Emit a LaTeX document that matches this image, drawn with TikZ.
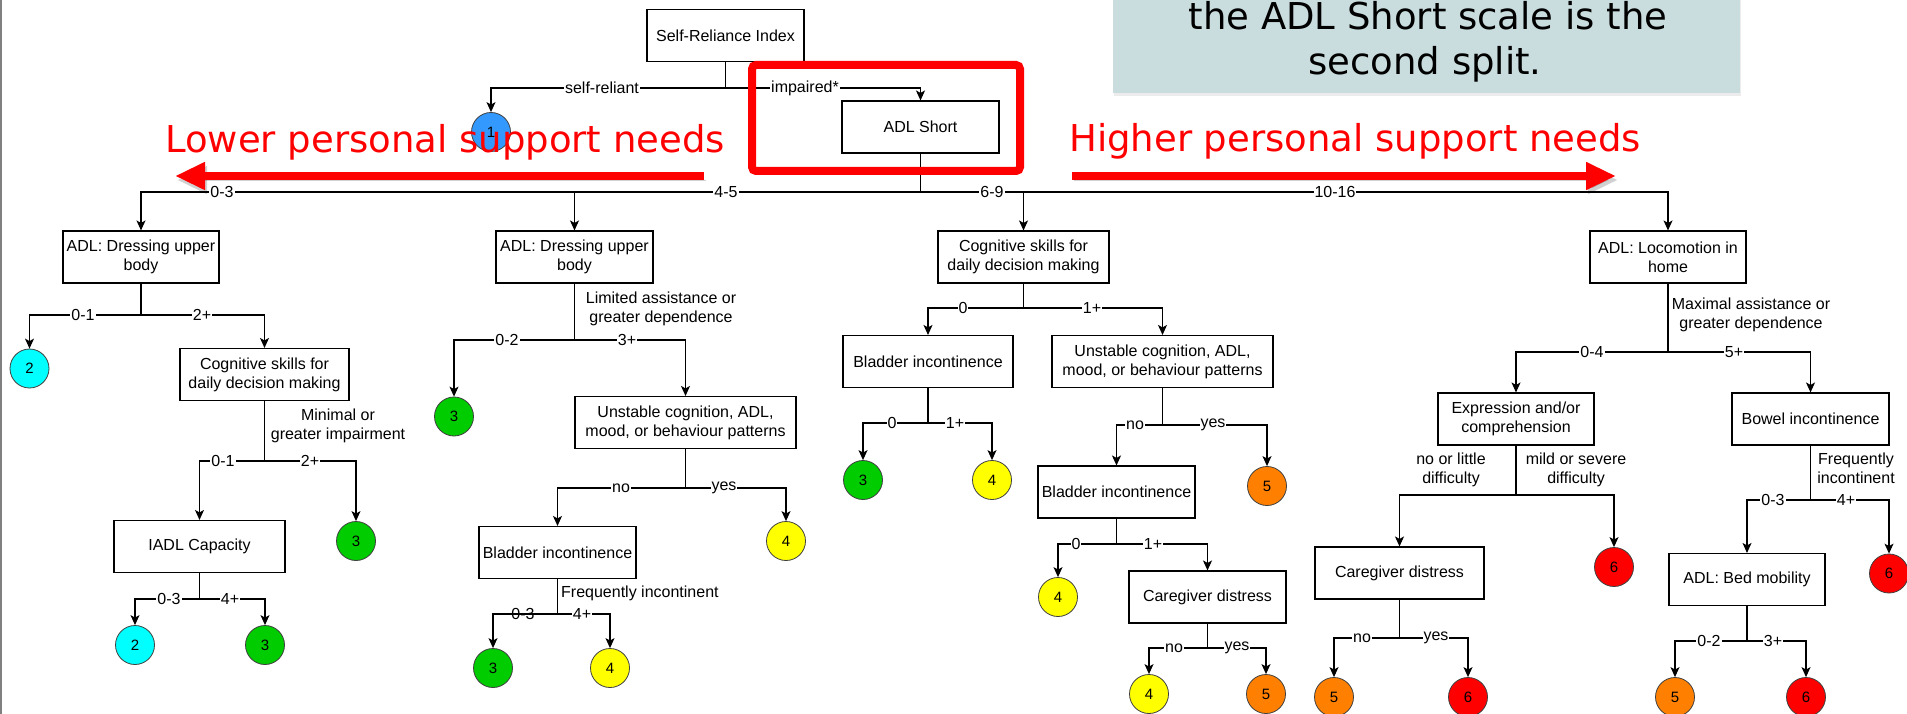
\documentclass[tikz,border=0pt]{standalone}
\usepackage{fontspec}
\setmainfont{Liberation Sans}
\newfontfamily\slidefont{DejaVu Sans}
\usetikzlibrary{arrows.meta,shadows}

\definecolor{leafcyan}{HTML}{00FFFF}
\definecolor{leafgreen}{HTML}{00CC00}
\definecolor{leafyellow}{HTML}{FFFF00}
\definecolor{leaforange}{HTML}{FF8000}
\definecolor{leafred}{HTML}{FF0000}
\definecolor{leafblue}{HTML}{3399FF}
\definecolor{notefill}{HTML}{C9DCDE}
\definecolor{framegray}{HTML}{808080}

\begin{document}
\begin{tikzpicture}[x=1pt,y=-1pt,
  box/.style={draw=black, line width=1.1pt, fill=white, minimum height=52pt,
    inner sep=1pt, align=center, font=\fontsize{16}{19}\selectfont},
  leaf/.style={circle, draw=black!75, line width=0.8pt, minimum size=39pt,
    inner sep=0pt, font=\fontsize{15}{15}\selectfont},
  ln/.style={line width=1.1pt, draw=black},
  arr/.style={ln, -{Stealth[length=10pt,width=9pt,inset=2.5pt]}},
  lbl/.style={fill=white, inner sep=1pt, font=\fontsize{16}{16}\selectfont},
  lblbare/.style={inner sep=1pt, font=\fontsize{16}{16}\selectfont},
  note/.style={align=center, inner sep=0pt, font=\fontsize{16}{19}\selectfont},
  redtxt/.style={text=red, inner sep=0pt, font=\slidefont\fontsize{37}{40}\selectfont},
  bigarrow/.style={draw=red, line width=8pt, -{Triangle[length=30pt,width=26pt]},
    preaction={draw=black, opacity=0.18, transform canvas={shift={(2pt,-4pt)}}}},
]
% page
\useasboundingbox (0,0) rectangle (1907,714);
\fill[white] (0,0) rectangle (1907,714);
\draw[framegray, line width=1.6pt] (1,0) -- (1,714);

% ---------- decision boxes ----------
\node[box, minimum width=157pt] (sri) at (725.5,35.5) {Self-Reliance Index};
\node[box, minimum width=157pt] (adls) at (920.5,127) {ADL Short};

\node[box, minimum width=156pt] (a1) at (141,257) {ADL: Dressing upper\\body};
\node[box, minimum width=169pt] (a2) at (264.5,374.5) {Cognitive skills for\\daily decision making};
\node[box, minimum width=171pt] (a3) at (199.5,546.5) {IADL Capacity};

\node[box, minimum width=157pt] (b1) at (574.5,257) {ADL: Dressing upper\\body};
\node[box, minimum width=221pt] (b2) at (685.5,422.5) {Unstable cognition, ADL,\\mood, or behaviour patterns};
\node[box, minimum width=157pt] (b3) at (557.5,552.5) {Bladder incontinence};

\node[box, minimum width=171pt] (c1) at (1023.5,257) {Cognitive skills for\\daily decision making};
\node[box, minimum width=170pt] (c2) at (928,361.5) {Bladder incontinence};
\node[box, minimum width=221pt] (c3) at (1162.5,361.5) {Unstable cognition, ADL,\\mood, or behaviour patterns};
\node[box, minimum width=157pt] (c4) at (1116.5,492) {Bladder incontinence};
\node[box, minimum width=157pt] (c5) at (1207.5,597) {Caregiver distress};

\node[box, minimum width=156pt] (d1) at (1668,257) {ADL: Locomotion in\\home};
\node[box, minimum width=156pt] (d2) at (1516,419) {Expression and/or\\comprehension};
\node[box, minimum width=157pt] (d3) at (1810.5,419) {Bowel incontinence};
\node[box, minimum width=169pt] (d4) at (1399.5,573) {Caregiver distress};
\node[box, minimum width=156pt] (d5) at (1747,579.5) {ADL: Bed mobility};

% ---------- outcome circles ----------
\node[leaf, fill=leafblue] (o1) at (491,132) {1};

\node[leaf, fill=leafcyan]  (oa1) at (29.5,368.5) {2};
\node[leaf, fill=leafgreen] (oa2) at (356,541) {3};
\node[leaf, fill=leafcyan]  (oa3) at (135,645) {2};
\node[leaf, fill=leafgreen] (oa4) at (265,645) {3};

\node[leaf, fill=leafgreen]  (ob1) at (454,416.5) {3};
\node[leaf, fill=leafyellow] (ob2) at (786,541) {4};
\node[leaf, fill=leafgreen]  (ob3) at (493,668) {3};
\node[leaf, fill=leafyellow] (ob4) at (610,668) {4};

\node[leaf, fill=leafgreen]  (oc1) at (863,480) {3};
\node[leaf, fill=leafyellow] (oc2) at (992,480) {4};
\node[leaf, fill=leaforange] (oc3) at (1267,486) {5};
\node[leaf, fill=leafyellow] (oc4) at (1058,597) {4};
\node[leaf, fill=leafyellow] (oc5) at (1149,694) {4};
\node[leaf, fill=leaforange] (oc6) at (1266,694) {5};

\node[leaf, fill=leafred]    (od1) at (1614,567) {6};
\node[leaf, fill=leaforange] (od2) at (1334,697) {5};
\node[leaf, fill=leafred]    (od3) at (1468,697) {6};
\node[leaf, fill=leafred]    (od4) at (1889,573.5) {6};
\node[leaf, fill=leaforange] (od5) at (1675,697) {5};
\node[leaf, fill=leafred]    (od6) at (1806,697) {6};

% ---------- splits ----------
% Self-Reliance Index
\coordinate (j0) at (725.5,88);
\draw[ln] (sri.south) -- (j0);
\draw[arr] (j0) -| (o1.north);
\draw[arr] (j0) -| (adls.north);
\node[lbl] (l0a) at (602,88) {self-reliant};
\node[lbl] (l0b) at (805,88) {impaired*};

% ADL Short
\coordinate (j1) at (920.5,192);
\draw[ln] (adls.south) -- (j1);
\draw[arr] (j1) -| (a1.north);
\draw[arr] (j1) -| (b1.north);
\draw[arr] (j1) -| (c1.north);
\draw[arr] (j1) -| (d1.north);
\node[lbl] (l1a) at (222,192) {0-3};
\node[lbl] (l1b) at (726,192) {4-5};
\node[lbl] (l1c) at (992,192) {6-9};
\node[lbl] (l1d) at (1335,192) {10-16};

% branch 0-3
\coordinate (ja1) at (141,315);
\draw[ln] (a1.south) -- (ja1);
\draw[arr] (ja1) -| (oa1.north);
\draw[arr] (ja1) -| (a2.north);
\node[lbl] (la1a) at (83,315) {0-1};
\node[lbl] (la1b) at (202,315) {2+};

\coordinate (ja2) at (264.5,461);
\draw[ln] (a2.south) -- (ja2);
\draw[arr] (ja2) -| (a3.north);
\draw[arr] (ja2) -| (oa2.north);
\node[note] (na2) at (338,425.5) {Minimal or\\greater impairment};
\node[lbl] (la2a) at (223,461) {0-1};
\node[lbl] (la2b) at (310,461) {2+};

\coordinate (ja3) at (199.5,599);
\draw[ln] (a3.south) -- (ja3);
\draw[arr] (ja3) -| (oa3.north);
\draw[arr] (ja3) -| (oa4.north);
\node[lbl] (la3a) at (169,599) {0-3};
\node[lbl] (la3b) at (230,599) {4+};

% branch 4-5
\coordinate (jb1) at (574.5,340);
\draw[ln] (b1.south) -- (jb1);
\draw[arr] (jb1) -| (ob1.north);
\draw[arr] (jb1) -| (b2.north);
\node[note] (nb1) at (661,308.5) {Limited assistance or\\greater dependence};
\node[lbl] (lb1a) at (507,340) {0-2};
\node[lbl] (lb1b) at (627,340) {3+};

\coordinate (jb2) at (685.5,488);
\draw[ln] (b2.south) -- (jb2);
\draw[arr] (jb2) -| (b3.north);
\draw[arr] (jb2) -| (ob2.north);
\node[lbl] (lb2a) at (621,488) {no};
\node[lbl] (lb2b) at (724,488) {yes};

\coordinate (jb3) at (557.5,614);
\draw[ln] (b3.south) -- (jb3);
\draw[arr] (jb3) -| (ob3.north);
\draw[arr] (jb3) -| (ob4.north);
\node[note, anchor=west] (nb3) at (561,593) {Frequently incontinent};
\node[lblbare] (lb3a) at (523,614) {0-3};
\node[lbl] (lb3b) at (582,614) {4+};

% branch 6-9
\coordinate (jc1) at (1023.5,308);
\draw[ln] (c1.south) -- (jc1);
\draw[arr] (jc1) -| (c2.north);
\draw[arr] (jc1) -| (c3.north);
\node[lbl] (lc1a) at (963,308) {0};
\node[lbl] (lc1b) at (1092,308) {1+};

\coordinate (jc2) at (928,423);
\draw[ln] (c2.south) -- (jc2);
\draw[arr] (jc2) -| (oc1.north);
\draw[arr] (jc2) -| (oc2.north);
\node[lbl] (lc2a) at (892,423) {0};
\node[lbl] (lc2b) at (955,423) {1+};

\coordinate (jc3) at (1162.5,425);
\draw[ln] (c3.south) -- (jc3);
\draw[arr] (jc3) -| (c4.north);
\draw[arr] (jc3) -| (oc3.north);
\node[lbl] (lc3a) at (1135,425) {no};
\node[lbl] (lc3b) at (1213,425) {yes};

\coordinate (jc4) at (1116.5,544);
\draw[ln] (c4.south) -- (jc4);
\draw[arr] (jc4) -| (oc4.north);
\draw[arr] (jc4) -| (c5.north);
\node[lbl] (lc4a) at (1076,544) {0};
\node[lbl] (lc4b) at (1153,544) {1+};

\coordinate (jc5) at (1207.5,648);
\draw[ln] (c5.south) -- (jc5);
\draw[arr] (jc5) -| (oc5.north);
\draw[arr] (jc5) -| (oc6.north);
\node[lbl] (lc5a) at (1174,648) {no};
\node[lbl] (lc5b) at (1237,648) {yes};

% branch 10-16
\coordinate (jd1) at (1668,352);
\draw[ln] (d1.south) -- (jd1);
\draw[arr] (jd1) -| (d2.north);
\draw[arr] (jd1) -| (d3.north);
\node[note] (nd1) at (1751,314.5) {Maximal assistance or\\greater dependence};
\node[lbl] (ld1a) at (1592,352) {0-4};
\node[lbl] (ld1b) at (1734,352) {5+};

\coordinate (jd2) at (1516,495);
\draw[ln] (d2.south) -- (jd2);
\draw[arr] (jd2) -| (d4.north);
\draw[arr] (jd2) -| (od1.north);
\node[note] (nd2a) at (1451,469.5) {no or little\\difficulty};
\node[note] (nd2b) at (1576,469.5) {mild or severe\\difficulty};

\coordinate (jd4) at (1399.5,638);
\draw[ln] (d4.south) -- (jd4);
\draw[arr] (jd4) -| (od2.north);
\draw[arr] (jd4) -| (od3.north);
\node[lbl] (ld4a) at (1362,638) {no};
\node[lbl] (ld4b) at (1436,638) {yes};

\coordinate (jd3) at (1810.5,500);
\draw[ln] (d3.south) -- (jd3);
\draw[arr] (jd3) -| (d5.north);
\draw[arr] (jd3) -| (od4.north);
\node[note] (nd3) at (1856,468.5) {Frequently\\incontinent};
\node[lbl] (ld3a) at (1773,500) {0-3};
\node[lbl] (ld3b) at (1846,500) {4+};

\coordinate (jd5) at (1747,641);
\draw[ln] (d5.south) -- (jd5);
\draw[arr] (jd5) -| (od5.north);
\draw[arr] (jd5) -| (od6.north);
\node[lbl] (ld5a) at (1709,641) {0-2};
\node[lbl] (ld5b) at (1773,641) {3+};

% ---------- slide annotations ----------
\node[redtxt, anchor=base west] (lowtxt) at (165,153) {Lower personal support needs};
\node[redtxt, anchor=base west] (hightxt) at (1069,152) {Higher personal support needs};

\coordinate (la0) at (704,176);
\coordinate (la1) at (175,176);
\draw[bigarrow] (la0) -- (la1);
\coordinate (ra0) at (1072,176);
\coordinate (ra1) at (1616,176);
\draw[bigarrow] (ra0) -- (ra1);

% highlight round the second split
\draw[red, line width=8pt, rounded corners=4pt,
  preaction={draw=black, opacity=0.18, transform canvas={shift={(2pt,-3pt)}}}]
  (752,65) rectangle (1020,171);

% call-out box
\node[fill=notefill, minimum width=627pt, minimum height=98pt, inner sep=0pt,
  drop shadow={opacity=0.15, shadow xshift=1pt, shadow yshift=-3pt}]
  (callout) at (1426.5,44) {};
\node[inner sep=0pt, anchor=base, font=\slidefont\fontsize{37}{40}\selectfont]
  (callout1) at (1428,30) {the ADL Short scale is the};
\node[inner sep=0pt, anchor=base, font=\slidefont\fontsize{37}{40}\selectfont]
  (callout2) at (1425,75) {second split.};
\end{tikzpicture}
\end{document}
